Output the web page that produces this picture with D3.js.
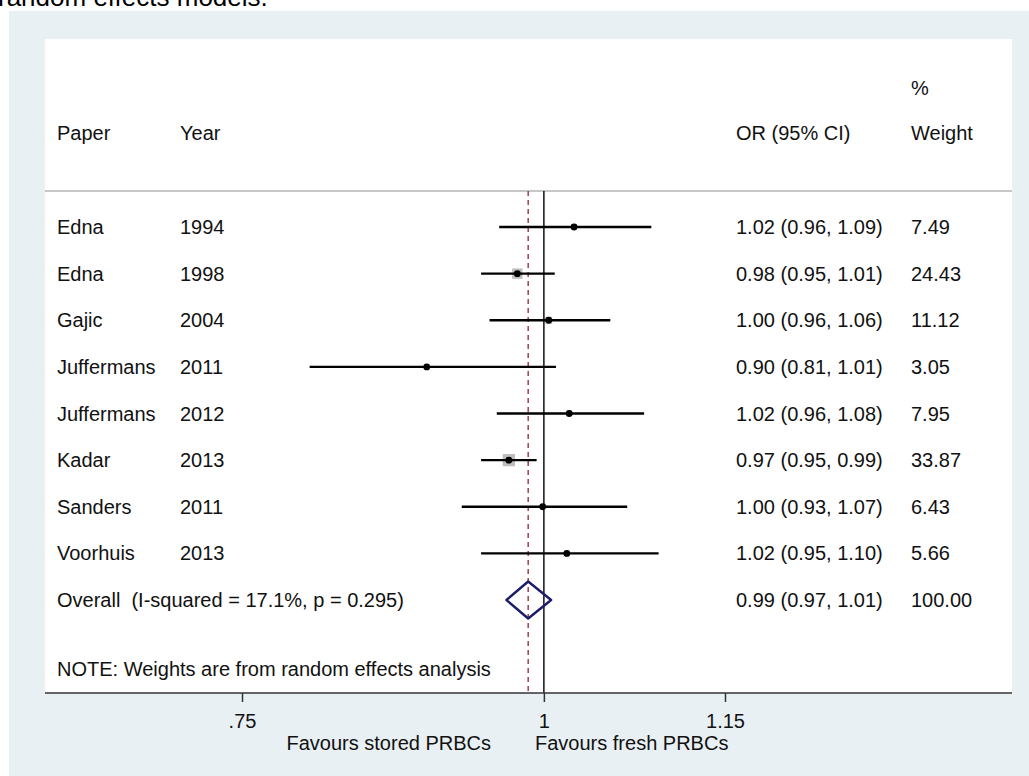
<!DOCTYPE html>
<html>
<head>
<meta charset="utf-8">
<script src="https://cdn.jsdelivr.net/npm/d3@7"></script>
<style>
  body { margin: 0; background: #fff; }
  svg { display: block; font-family: "Liberation Sans", Arial, sans-serif; }
  text { white-space: pre; }
</style>
</head>
<body>
<div id="chart"></div>
<script>
// Forest plot: stored vs fresh PRBCs, random effects

const papers  = ["Edna", "Edna", "Gajic", "Juffermans", "Juffermans", "Kadar", "Sanders", "Voorhuis"];
const years   = ["1994", "1998", "2004", "2011", "2012", "2013", "2011", "2013"];
const est     = [1.025, 0.978, 1.004, 0.903, 1.021, 0.971, 0.999, 1.019];
const lo      = [0.963, 0.948, 0.955, 0.806, 0.961, 0.948, 0.932, 0.948];
const hi      = [1.089, 1.009, 1.055, 1.010, 1.083, 0.994, 1.069, 1.095];
const weights = [7.49, 24.43, 11.12, 3.05, 7.95, 33.87, 6.43, 5.66];
const ciText  = ["1.02 (0.96, 1.09)", "0.98 (0.95, 1.01)", "1.00 (0.96, 1.06)", "0.90 (0.81, 1.01)",
                 "1.02 (0.96, 1.08)", "0.97 (0.95, 0.99)", "1.00 (0.93, 1.07)", "1.02 (0.95, 1.10)"];
const weightText = ["7.49", "24.43", "11.12", "3.05", "7.95", "33.87", "6.43", "5.66"];

const overallEst = 0.987, overallLo = 0.969, overallHi = 1.006;
const overallLabel = "Overall  (I-squared = 17.1%, p = 0.295)";
const overallCI = "0.99 (0.97, 1.01)";
const overallWeight = "100.00";

const xTicks = [0.75, 1, 1.15];
const xTickLabels = [".75", "1", "1.15"];

const width = 1029, height = 776;
const fontSize = 20;

const svg = d3.select("#chart").append("svg")
  .attr("width", width)
  .attr("height", height);

// caption text cut off at the top of the picture
svg.append("text")
  .attr("x", -2).attr("y", 6)
  .style("font-size", "26px")
  .text("random effects models.");

// outer grey panel + white plot region
svg.append("rect").attr("x", 9).attr("y", 11).attr("width", width - 9).attr("height", height - 11)
  .attr("fill", "#e8f0f3");
svg.append("rect").attr("x", 45).attr("y", 39).attr("width", 1012 - 45).attr("height", 693 - 39)
  .attr("fill", "#fff");

const x = d3.scaleLinear().domain([0.75, 1.15]).range([242, 725]);
const y = d3.scaleLinear().domain([0, 8]).range([227, 600]);

const colPaper = 57, colYear = 180, colCI = 736, colW = 911;
const base = 7; // baseline offset from row centre

const txt = (xx, yy, s, anchor) => svg.append("text")
  .attr("x", xx).attr("y", yy + base)
  .attr("text-anchor", anchor || "start")
  .style("font-size", fontSize + "px")
  .style("fill", "#111")
  .text(s);

// headers
txt(colW, 88, "%");
txt(colPaper, 133, "Paper");
txt(colYear, 133, "Year");
txt(colCI, 133, "OR (95% CI)");
txt(colW, 133, "Weight");

// header separator
svg.append("line").attr("x1", 45).attr("x2", 1012).attr("y1", 191).attr("y2", 191)
  .attr("stroke", "#b4b4b4").attr("stroke-width", 1.5);

// null line and overall line
svg.append("line").attr("x1", x(1)).attr("x2", x(1)).attr("y1", 191).attr("y2", 693)
  .attr("stroke", "#111").attr("stroke-width", 1.5);
svg.append("line").attr("x1", x(overallEst)).attr("x2", x(overallEst)).attr("y1", 191).attr("y2", 693)
  .attr("stroke", "#a0303c").attr("stroke-width", 1.4).attr("stroke-dasharray", "5,4");

const rows = d3.range(papers.length);

// weight boxes
svg.selectAll("rect.wbox").data(rows).enter().append("rect")
  .attr("class", "wbox")
  .attr("x", i => x(est[i]) - 1.05 * Math.sqrt(weights[i]))
  .attr("y", i => y(i) - 1.05 * Math.sqrt(weights[i]))
  .attr("width", i => 2.1 * Math.sqrt(weights[i]))
  .attr("height", i => 2.1 * Math.sqrt(weights[i]))
  .attr("fill", "#bdbdbd");

// CI lines
svg.selectAll("line.ci").data(rows).enter().append("line")
  .attr("class", "ci")
  .attr("x1", i => x(lo[i])).attr("x2", i => x(hi[i]))
  .attr("y1", i => y(i)).attr("y2", i => y(i))
  .attr("stroke", "#000").attr("stroke-width", 2.4);

// point estimates
svg.selectAll("circle.pt").data(rows).enter().append("circle")
  .attr("class", "pt")
  .attr("cx", i => x(est[i])).attr("cy", i => y(i)).attr("r", 3.4)
  .attr("fill", "#000");

// row texts
rows.forEach(i => {
  txt(colPaper, y(i), papers[i]);
  txt(colYear, y(i), years[i]);
  txt(colCI, y(i), ciText[i]);
  txt(colW, y(i), weightText[i]);
});

// overall diamond
const yo = y(8), dh = 18.5;
svg.append("path")
  .attr("d", `M${x(overallLo)},${yo} L${x(overallEst)},${yo - dh} L${x(overallHi)},${yo} L${x(overallEst)},${yo + dh} Z`)
  .attr("fill", "none").attr("stroke", "#1c1c6a").attr("stroke-width", 2.4)
  .attr("stroke-linejoin", "round");

txt(colPaper, yo, overallLabel);
txt(colCI, yo, overallCI);
txt(colW, yo, overallWeight);

txt(colPaper, 669, "NOTE: Weights are from random effects analysis");

// x axis
const axis = svg.append("g")
  .attr("transform", "translate(0,693)")
  .call(d3.axisBottom(x).tickValues(xTicks).tickSize(9)
    .tickFormat((d, i) => xTickLabels[i]));
axis.select(".domain").remove();
axis.selectAll(".tick line").attr("stroke", "#333").attr("stroke-width", 1.5);
axis.selectAll(".tick text")
  .attr("y", 0).attr("dy", null)
  .attr("transform", "translate(0,35)")
  .style("font-size", fontSize + "px")
  .style("font-family", "\"Liberation Sans\", Arial, sans-serif")
  .attr("fill", "#111");

svg.append("line").attr("x1", 45).attr("x2", 1012).attr("y1", 693).attr("y2", 693)
  .attr("stroke", "#333").attr("stroke-width", 1.5);

txt(491, 743, "Favours stored PRBCs", "end");
txt(535, 743, "Favours fresh PRBCs");
</script>
</body>
</html>
